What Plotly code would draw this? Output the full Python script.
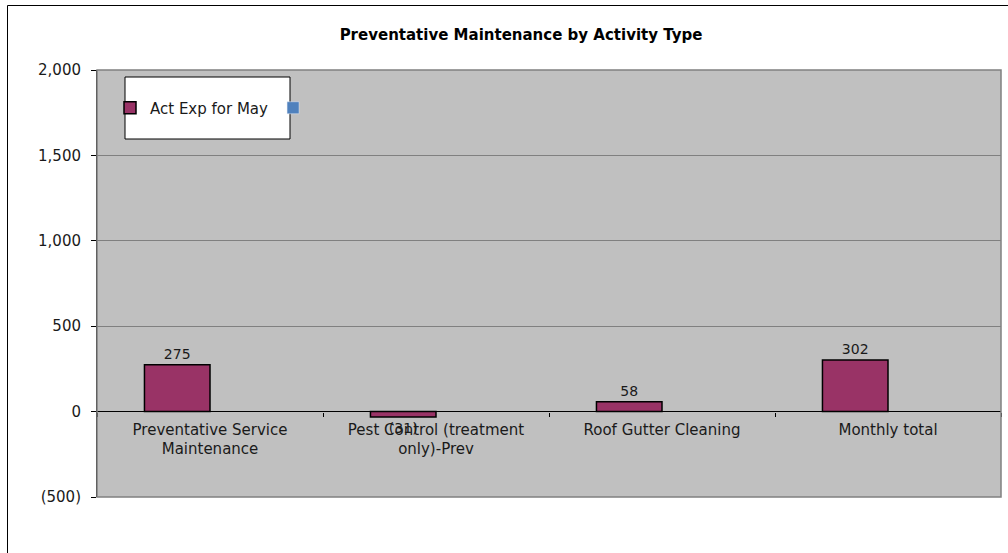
import plotly.graph_objects as go

# Chart data
categories = [
    "Preventative Service<br>Maintenance",
    "Pest Control (treatment<br>only)-Prev",
    "Roof Gutter Cleaning",
    "Monthly total",
]
act_exp_may = [275, -31, 58, 302]
second_series = [None, None, None, None]
y_ticks = [-500, 0, 500, 1000, 1500, 2000]


def fmt_num(v):
    """Accounting style number: negatives in brackets."""
    s = f"{abs(v):,.0f}"
    return f"({s})" if v < 0 else s


FONT = "DejaVu Sans"
TXT = "#1a1a1a"

# plot area in pixels: x 97..1001, y 70..497
L, R, T, B = 97, 7, 70, 56
W, H = 1008, 553
pw, ph = W - L - R, H - T - B

fig = go.Figure()
fig.add_trace(go.Bar(
    x=categories, y=act_exp_may, name="Act Exp for May",
    marker=dict(color="#993366", line=dict(color="#000000", width=1.5)),
    text=[fmt_num(v) for v in act_exp_may], textposition="outside",
    textfont=dict(family=FONT, size=14, color=TXT),
    cliponaxis=False,
))
fig.add_trace(go.Bar(
    x=categories, y=second_series, name=" ",
    marker=dict(color="#4F81BD"),
))

# outer chart border (left + top visible)
fig.add_shape(type="line", xref="paper", yref="paper",
              x0=(7.5 - L) / pw, x1=(7.5 - L) / pw,
              y0=-(H + 10 - (H - B)) / ph, y1=(H - B - 5.5) / ph,
              line=dict(color="#000000", width=1))
fig.add_shape(type="line", xref="paper", yref="paper",
              x0=(7.5 - L) / pw, x1=(1012 - L) / pw,
              y0=(H - B - 5.5) / ph, y1=(H - B - 5.5) / ph,
              line=dict(color="#000000", width=1))
# plot area frame
fig.add_shape(type="rect", xref="paper", yref="paper",
              x0=0, x1=1, y0=0, y1=1,
              line=dict(color="#808080", width=1.5))
# legend box
fig.add_shape(type="rect", xref="paper", yref="paper",
              x0=(125 - L) / pw, x1=(290 - L) / pw,
              y0=(H - B - 139) / ph, y1=(H - B - 77) / ph,
              fillcolor="#FFFFFF", line=dict(color="#000000", width=1))

fig.update_layout(
    width=W, height=H,
    margin=dict(l=L, r=R, t=T, b=B),
    paper_bgcolor="#FFFFFF", plot_bgcolor="#C0C0C0",
    title=dict(text="<b>Preventative Maintenance by Activity Type</b>",
               x=521 / W, xanchor="center", y=1 - 35 / H, yanchor="middle",
               font=dict(family=FONT, size=15, color="#000000")),
    barmode="group", bargap=0.42, bargroupgap=0,
    showlegend=True,
    legend=dict(orientation="h", x=(110 - L) / pw, xanchor="left",
                y=(H - B - 108) / ph, yanchor="middle",
                bgcolor="rgba(0,0,0,0)", borderwidth=0,
                font=dict(family=FONT, size=15, color=TXT),
                itemwidth=30, tracegroupgap=0),
    font=dict(family=FONT, size=15, color=TXT),
)

fig.update_yaxes(
    range=[-500, 2000], tickvals=y_ticks,
    ticktext=[fmt_num(v) for v in y_ticks],
    showgrid=True, gridcolor="#808080", gridwidth=1,
    zeroline=True, zerolinecolor="#000000", zerolinewidth=1,
    showline=True, linecolor="#000000", linewidth=1,
    ticks="outside", ticklen=5, tickcolor="#000000",
    ticklabelstandoff=7,
    tickfont=dict(family=FONT, size=15, color=TXT),
)
fig.update_xaxes(
    anchor="free", position=0.2,
    showline=False, showgrid=False,
    tickson="boundaries", ticks="outside", ticklen=4, tickcolor="#000000",
    ticklabelstandoff=7,
    tickfont=dict(family=FONT, size=15, color=TXT),
)

fig.write_html("out.html", config={"displayModeBar": False},
               post_script="document.body.style.margin='0';")
